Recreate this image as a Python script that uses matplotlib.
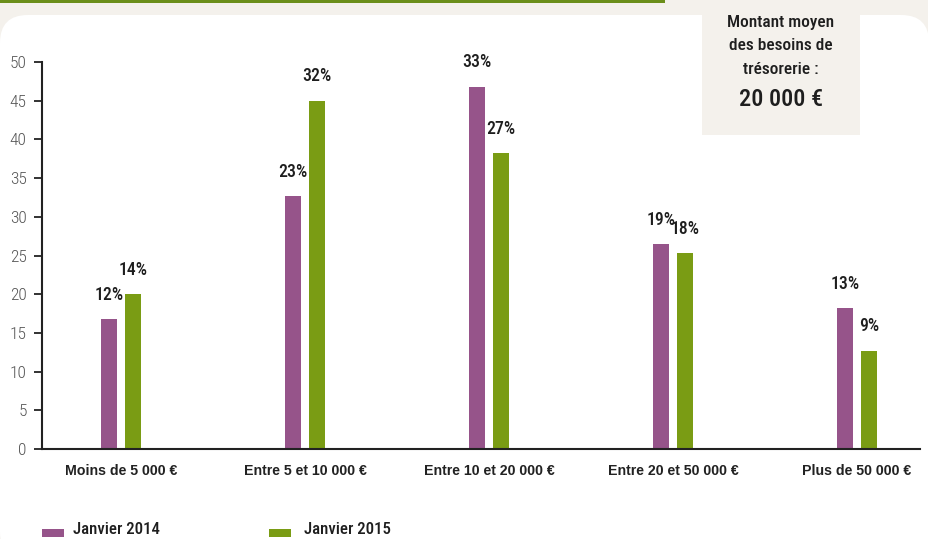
import matplotlib
matplotlib.use("Agg")
import matplotlib.pyplot as plt
from matplotlib.patches import FancyBboxPatch, Rectangle
import numpy as np

plt.rcParams['font.family'] = ['Roboto Condensed', 'IBM Plex Sans Condensed', 'DejaVu Sans']

categories = ["Moins de 5 000 €", "Entre 5 et 10 000 €", "Entre 10 et 20 000 €",
              "Entre 20 et 50 000 €", "Plus de 50 000 €"]
jan2014 = [16.8, 32.7, 46.8, 26.5, 18.2]
jan2015 = [20.0, 45.0, 38.2, 25.3, 12.7]
labels2014 = ["12%", "23%", "33%", "19%", "13%"]
labels2015 = ["14%", "32%", "27%", "18%", "9%"]
yticks = [0, 5, 10, 15, 20, 25, 30, 35, 40, 45, 50]
series_names = ["Janvier 2014", "Janvier 2015"]

PURPLE = "#96548a"
GREEN = "#7a9c14"
BEIGE = "#f4f1ec"
W, H = 929, 539

fig = plt.figure(figsize=(W / 100, H / 100), dpi=100)
fig.patch.set_facecolor(BEIGE)

def fx(px):
    return px / W

def fy(py):
    return 1 - py / H

# white rounded panel
panel = FancyBboxPatch((fx(0), fy(560)), fx(929), (560 - 15) / H,
                       boxstyle="round,pad=0,rounding_size=0.03",
                       transform=fig.transFigure, facecolor="white",
                       edgecolor="none", zorder=-5, mutation_aspect=W / H)
fig.patches.append(panel)
# green top line
fig.patches.append(Rectangle((0, fy(2.5)), fx(665), 2.5 / H, transform=fig.transFigure,
                             facecolor="#6b8e1a", edgecolor="none", zorder=-4))
# info box
fig.patches.append(Rectangle((fx(702), fy(135)), fx(860 - 702), (135 - 10) / H,
                             transform=fig.transFigure, facecolor=BEIGE,
                             edgecolor="none", zorder=-4))
for txt, y in [("Montant moyen", 22), ("des besoins de", 46), ("trésorerie :", 70)]:
    fig.text(fx(781), fy(y), txt, ha="center", va="center", fontsize=12.5,
             color="#1e1e1e", fontweight="medium")
fig.text(fx(781), fy(100), "20 000 €", ha="center", va="center", fontsize=17.5,
         color="#1e1e1e", fontweight="medium")

ax_left, ax_right, ax_top, ax_bot = 42, 920, 62, 449
ax = fig.add_axes([fx(ax_left), fy(ax_bot), fx(ax_right - ax_left), (ax_bot - ax_top) / H])
ax.set_facecolor("none")
ax.set_zorder(2)

spacing = 184.0
c0 = 121.0
x = np.arange(len(categories))
ax.set_xlim((ax_left - c0) / spacing, (ax_right - c0) / spacing)
ax.set_ylim(0, 50)
bw = 16 / spacing
off = 12 / spacing

ax.bar(x - off, jan2014, width=bw, color=PURPLE, zorder=2)
ax.bar(x + off, jan2015, width=bw, color=GREEN, zorder=2)

for xs, vals, labs in [(x - off, jan2014, labels2014), (x + off, jan2015, labels2015)]:
    for xi, v, lab in zip(xs, vals, labs):
        ax.annotate(lab, (xi, v), xytext=(0, 11), textcoords="offset points", ha="center",
                    va="bottom", fontsize=12.8, fontweight="medium", color="#1e1e1e",
                    annotation_clip=False)

for s in ["top", "right"]:
    ax.spines[s].set_visible(False)
for s in ["left", "bottom"]:
    ax.spines[s].set_color("#222222")
    ax.spines[s].set_linewidth(1.5)

ax.set_yticks(yticks)
ax.set_yticklabels([str(t) for t in yticks], fontsize=12.5, color="#555555",
                   fontweight="light")
ax.tick_params(axis="y", length=6, width=1.3, color="#222222", pad=5)
ax.set_xticks(x)
ax.set_xticklabels(categories, fontsize=10.2, fontweight="bold", color="#222222",
                   family=["Liberation Sans", "DejaVu Sans"])
ax.tick_params(axis="x", length=0, pad=11)

# legend
fig.patches.append(Rectangle((fx(42), fy(537)), fx(22), 8 / H, transform=fig.transFigure,
                             facecolor=PURPLE, edgecolor="none"))
fig.patches.append(Rectangle((fx(269), fy(537)), fx(22), 8 / H, transform=fig.transFigure,
                             facecolor=GREEN, edgecolor="none"))
fig.text(fx(73), fy(529), series_names[0], ha="left", va="center", fontsize=12.2, color="#1e1e1e",
         fontweight="medium")
fig.text(fx(304), fy(529), series_names[1], ha="left", va="center", fontsize=12.2, color="#1e1e1e",
         fontweight="medium")

fig.savefig("out.png", dpi=100, facecolor=fig.get_facecolor())
